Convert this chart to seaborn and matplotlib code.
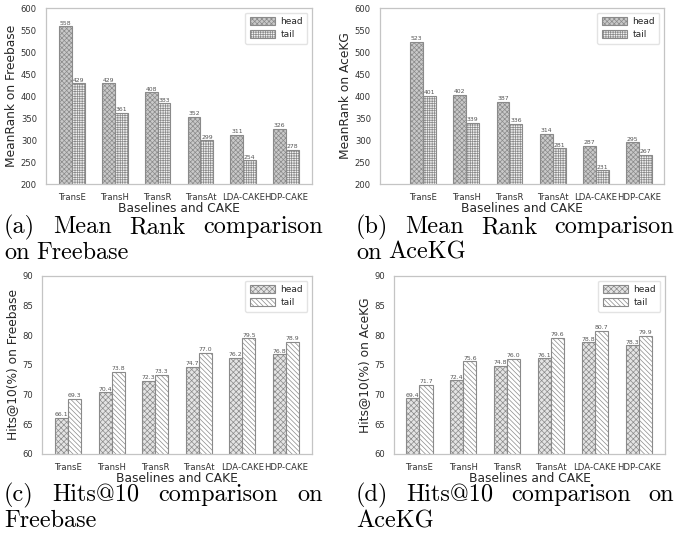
import numpy as np
import pandas as pd
import seaborn as sns
import matplotlib.pyplot as plt

# data
models = ["TransE", "TransH", "TransR", "TransAt", "LDA-CAKE", "HDP-CAKE"]
fb_mr_head = [558, 429, 408, 352, 311, 326]
fb_mr_tail = [429, 361, 383, 299, 254, 278]
ak_mr_head = [523, 402, 387, 314, 287, 295]
ak_mr_tail = [401, 339, 336, 281, 231, 267]
fb_hit_head = [66.1, 70.4, 72.3, 74.7, 76.2, 76.8]
fb_hit_tail = [69.3, 73.8, 73.3, 77.0, 79.5, 78.9]
ak_hit_head = [69.4, 72.4, 74.8, 76.1, 78.8, 78.3]
ak_hit_tail = [71.7, 75.6, 76.0, 79.6, 80.7, 79.9]

sns.set_theme(style="white")
plt.rcParams["hatch.linewidth"] = 0.5

W, H = 677, 536
fig = plt.figure(figsize=(W / 100, H / 100), dpi=100)


def px_axes(l, t, r, b):
    return fig.add_axes([l / W, 1 - b / H, (r - l) / W, (b - t) / H])


def panel(ax, head, tail, ylabel, ylim, yticks, fmt, hatches, faces, xlim):
    df = pd.DataFrame({
        "model": models * 2,
        "value": head + tail,
        "side": ["head"] * len(models) + ["tail"] * len(models),
    })
    sns.barplot(data=df, x="model", y="value", hue="side", ax=ax,
                width=0.6, gap=0, legend=False, err_kws={"linewidth": 0})
    for cont, h, fc in zip(ax.containers, hatches, faces):
        for p in cont:
            p.set_facecolor(fc)
            p.set_hatch(h)
            p.set_edgecolor("#8a8a8a")
            p.set_linewidth(0.8)
        ax.bar_label(cont, fmt=fmt, fontsize=4.4, color="#555555", padding=0.5)
    ax.set_ylim(*ylim)
    ax.set_yticks(yticks)
    ax.set_xlim(*xlim)
    ax.set_ylabel(ylabel, fontsize=8.8, labelpad=2)
    ax.set_xlabel("Baselines and CAKE", fontsize=8.8, labelpad=0)
    ax.tick_params(axis="both", labelsize=6.1, pad=0.5, colors="#333333")
    for s in ax.spines.values():
        s.set_color("#c4c4c4")
        s.set_linewidth(0.9)
    ax.legend(ax.containers, ["head", "tail"], loc="upper right",
              fontsize=6.5, handlelength=2.8, handleheight=0.9,
              borderpad=0.5, labelspacing=0.45, handletextpad=0.6,
              frameon=True, edgecolor="#dddddd")


mr_ticks = list(range(200, 601, 50))
hit_ticks = list(range(60, 91, 5))

ax_a = px_axes(46, 8, 312, 184)
panel(ax_a, fb_mr_head, fb_mr_tail, "MeanRank on Freebase", (200, 600), mr_ticks,
      "%d", ["xxxxxxx", "+++++++"], ["#c9c9c9", "#f2f2f2"], (-0.6, 5.6))
ax_b = px_axes(380, 8, 664, 184)
panel(ax_b, ak_mr_head, ak_mr_tail, "MeanRank on AceKG", (200, 600), mr_ticks,
      "%d", ["xxxxxxx", "+++++++"], ["#c9c9c9", "#f2f2f2"], (-1.0, 5.58))
ax_c = px_axes(42, 276, 312, 454)
panel(ax_c, fb_hit_head, fb_hit_tail, "Hits@10(%) on Freebase", (60, 90), hit_ticks,
      "%.1f", ["xxxxxx", "\\\\\\\\\\\\\\"], ["#e4e4e4", "white"], (-0.6, 5.6))
ax_d = px_axes(394, 276, 665, 454)
panel(ax_d, ak_hit_head, ak_hit_tail, "Hits@10(%) on AceKG", (60, 90), hit_ticks,
      "%.1f", ["xxxxxx", "\\\\\\\\\\\\\\"], ["#e4e4e4", "white"], (-0.58, 5.6))

# justified serif captions under each panel
cap_font = dict(family=["cmr10", "DejaVu Serif"], fontsize=17.5, color="black")
renderer = fig.canvas.get_renderer()


def caption_line(words, x0, x1, baseline, justify=True):
    texts = [fig.text(0, 1 - baseline / H, w, va="baseline", ha="left", **cap_font)
             for w in words]
    widths = [t.get_window_extent(renderer).width for t in texts]
    if justify and len(words) > 1:
        gap = (x1 - x0 - sum(widths)) / (len(words) - 1)
    else:
        gap = 7
    x = x0
    for t, w in zip(texts, widths):
        t.set_x(x / W)
        x += w + gap


caption_line(["(a)", "Mean", "Rank", "comparison"], 4, 323, 233)
caption_line(["on", "Freebase"], 4, 323, 259, justify=False)
caption_line(["(b)", "Mean", "Rank", "comparison"], 356, 674, 233)
caption_line(["on", "AceKG"], 356, 674, 259, justify=False)
caption_line(["(c)", "Hits@10", "comparison", "on"], 4, 323, 501)
caption_line(["Freebase"], 4, 323, 527, justify=False)
caption_line(["(d)", "Hits@10", "comparison", "on"], 356, 674, 501)
caption_line(["AceKG"], 356, 674, 527, justify=False)

fig.savefig("out.png", dpi=100)
